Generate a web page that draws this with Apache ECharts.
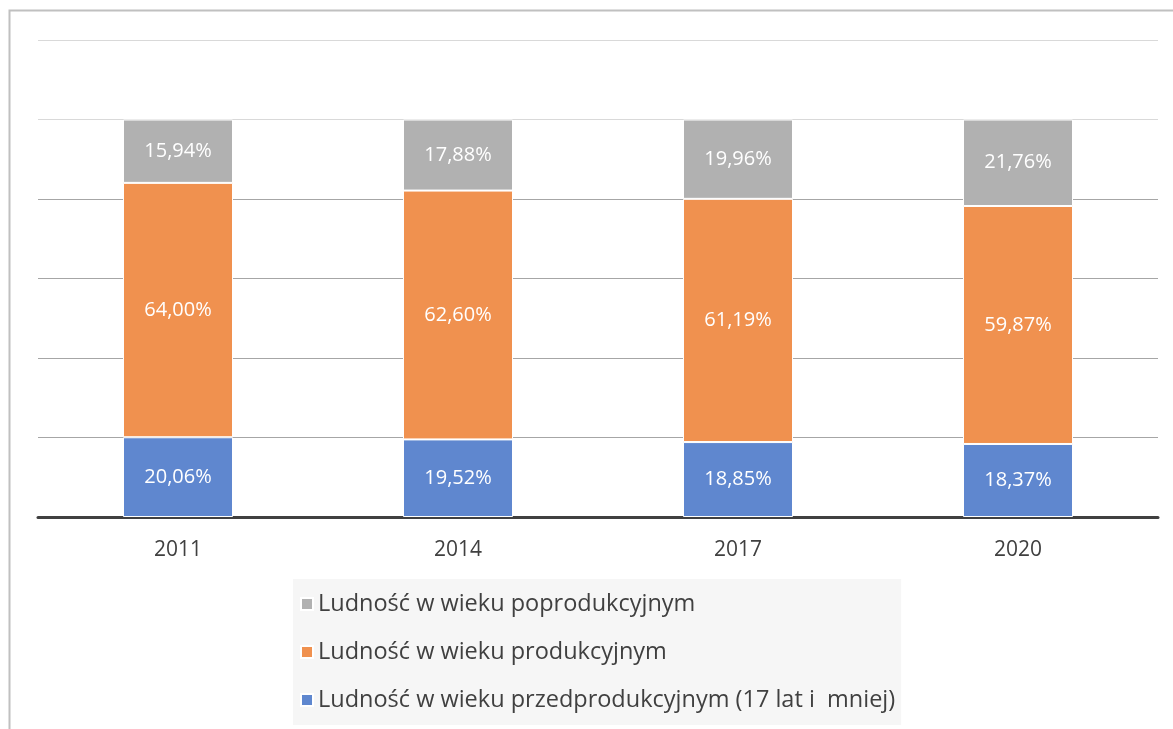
<!DOCTYPE html>
<html>
<head>
<meta charset="utf-8">
<script src="https://cdn.jsdelivr.net/npm/echarts@6/dist/echarts.min.js"></script>
<style>
  html, body { margin: 0; padding: 0; background: #fff; }
  #chart { width: 1173px; height: 729px; }
</style>
</head>
<body>
<div id="chart"></div>
<script>
const years = ['2011', '2014', '2017', '2020'];
const przedprodukcyjny = [20.06, 19.52, 18.85, 18.37];
const produkcyjny = [64.00, 62.60, 61.19, 59.87];
const poprodukcyjny = [15.94, 17.88, 19.96, 21.76];

const names = [
  'Ludność w wieku przedprodukcyjnym (17 lat i  mniej)',
  'Ludność w wieku produkcyjnym',
  'Ludność w wieku poprodukcyjnym'
];
const colors = ['#5f87cf', '#f0914f', '#b1b1b1'];

let myChart = echarts.init(document.getElementById('chart'));

function pct(p) {
  return p.value.toFixed(2).replace('.', ',') + '%';
}

function makeSeries(name, data, color) {
  return {
    name: name,
    type: 'bar',
    stack: 'total',
    data: data,
    barWidth: 110,
    itemStyle: { color: color, borderColor: '#ffffff', borderWidth: 1 },
    label: {
      show: true,
      position: 'inside',
      color: '#ffffff',
      fontFamily: 'Open Sans',
      fontSize: 20,
      formatter: pct
    }
  };
}

let option = {
  animation: false,
  textStyle: { fontFamily: 'Open Sans' },
  graphic: [{
    type: 'polyline',
    shape: { points: [[9.5, 729], [9.5, 10.5], [1173, 10.5]] },
    style: { stroke: '#c0c0c0', lineWidth: 2, fill: null }
  }],
  grid: { left: 38, right: 15, top: 40, bottom: 212 },
  xAxis: {
    type: 'category',
    data: years,
    axisLine: { lineStyle: { color: '#404040', width: 3 } },
    axisTick: { show: false },
    axisLabel: { color: '#404040', fontSize: 21, margin: 23 }
  },
  yAxis: {
    type: 'value',
    min: 0,
    max: 120,
    interval: 20,
    axisLabel: { show: false },
    axisLine: { show: false },
    axisTick: { show: false },
    splitLine: {
      lineStyle: {
        color: ['#a6a6a6', '#a6a6a6', '#a6a6a6', '#a6a6a6', '#a6a6a6', '#d9d9d9', '#d9d9d9']
      }
    }
  },
  legend: {
    orient: 'vertical',
    left: 293,
    top: 579,
    padding: [12, 6, 12, 7],
    backgroundColor: '#f6f6f6',
    itemWidth: 12,
    itemHeight: 12,
    itemGap: 22,
    icon: 'rect',
    data: [names[2], names[1], names[0]],
    textStyle: { color: '#404040', fontSize: 23.5, lineHeight: 26 }
  },
  series: [
    makeSeries(names[0], przedprodukcyjny, colors[0]),
    makeSeries(names[1], produkcyjny, colors[1]),
    makeSeries(names[2], poprodukcyjny, colors[2])
  ]
};

option && myChart.setOption(option);
</script>
</body>
</html>
